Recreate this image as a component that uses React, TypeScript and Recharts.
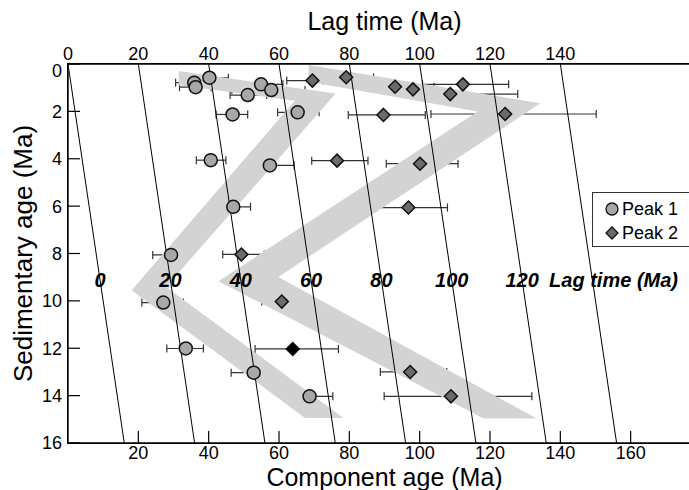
import { ComposedChart, Scatter, XAxis, YAxis, ErrorBar, Cell } from "recharts";

const FONT = '"Liberation Sans", Arial, Helvetica, sans-serif';

// Peak 1 (circles): component age, sedimentary age, error bar ends
const peak1Age = [40.2, 35.9, 36.3, 54.9, 57.8, 51.1, 46.8, 65.3, 40.6, 57.4, 47.0, 29.3, 27.1, 33.5, 52.8, 68.7];
const peak1Sed = [0.58, 0.79, 0.98, 0.86, 1.1, 1.31, 2.13, 2.04, 4.06, 4.28, 6.03, 8.06, 10.07, 12.01, 13.03, 14.03];
const peak1Low = [34.2, 30.6, 31.7, 49.1, 46.6, 46.1, 42.1, 59.6, 36.5, 50.5, 41.8, 24.1, 21.0, 28.1, 46.4, 61.5];
const peak1High = [45.6, 40.5, 40.7, 61.1, 67.4, 56.5, 51.1, 71.4, 44.9, 64.3, 51.9, 34.2, 32.8, 38.5, 59.1, 75.3];

// Peak 2 (diamonds)
const peak2Age = [69.5, 79.1, 93.0, 98.1, 112.3, 108.7, 89.7, 124.3, 76.5, 100.1, 96.8, 49.3, 60.8, 63.9, 97.3, 108.9];
const peak2Sed = [0.7, 0.56, 0.96, 1.07, 0.86, 1.27, 2.15, 2.11, 4.08, 4.21, 6.06, 8.04, 10.03, 12.03, 13.0, 14.03];
const peak2Low = [62.2, 72.0, 83.3, 89.7, 100.8, 95.1, 79.7, 103.2, 69.3, 90.5, 87.6, 44.0, 55.1, 53.2, 88.8, 89.9];
const peak2High = [72.6, 86.9, 104.1, 100.8, 125.3, 127.9, 101.6, 150.2, 85.3, 110.9, 107.9, 55.8, 67.3, 76.9, 107.7, 131.9];
const peak2Black = 13; // the one filled black

// shaded trend bands (polygon corners)
const band1Age = [31.5, 76.1, 27.9, 78.3, 67.4, 18.1, 64.5, 31.5];
const band1Sed = [0.3, 1.25, 9.41, 14.94, 14.94, 9.55, 1.55, 0.9];
const band2Age = [68.4, 134.3, 59.8, 133.3, 118.2, 42.8, 116.5, 68.4];
const band2Sed = [0.04, 1.66, 8.99, 14.97, 14.97, 9.17, 2.0, 0.75];

// lag time isolines and labels
const lagLines = [0, 20, 40, 60, 80, 100, 120, 140];
const lagLabels = [0, 20, 40, 60, 80, 100, 120];
const lagLabelSed = 9.13;

const ageDomain = [0, 180];
const sedDomain = [0, 16];
const bottomTicks = [20, 40, 60, 80, 100, 120, 140, 160];
const topTicks = [0, 20, 40, 60, 80, 100, 120, 140];
const sedTicks = [0, 2, 4, 6, 8, 10, 12, 14, 16];

// layout
const CHART_W = 701;
const CHART_H = 490;
const Y_AXIS_W = 68;
const TOP_AXIS_H = 64;
const BOTTOM_AXIS_H = 47;

const toPoints = (ages: number[], seds: number[]) => ages.map((age, i) => ({ age, sed: seds[i] }));
const withErr = (ages: number[], seds: number[], lo: number[], hi: number[]) =>
  ages.map((age, i) => ({ age, sed: seds[i], err: [age - lo[i], hi[i] - age] }));

const peak1 = withErr(peak1Age, peak1Sed, peak1Low, peak1High);
const peak2 = withErr(peak2Age, peak2Sed, peak2Low, peak2High);
const band1 = toPoints(band1Age, band1Sed);
const band2 = toPoints(band2Age, band2Sed);

const bottomTickMarks = bottomTicks.map((age) => ({ age, sed: sedDomain[1] }));
const leftTickMarks = sedTicks.map((sed) => ({ age: ageDomain[0], sed }));

const BandShape = (props: any) => {
  const pts = props.points || [];
  const d = pts.map((p: any, i: number) => `${i ? "L" : "M"}${p.x},${p.y}`).join("") + "Z";
  return <path d={d} fill="#d3d3d3" stroke="none" />;
};

const IsoLine = (props: any) => {
  const pts = props.points || [];
  const d = pts.map((p: any, i: number) => `${i ? "L" : "M"}${p.x},${p.y}`).join("");
  return <path d={d} fill="none" stroke="#000" strokeWidth={1} />;
};

const Empty = () => <g />;

const UpTick = (p: any) => <path d={`M${p.cx},${p.cy}L${p.cx},${p.cy - 12}`} stroke="#000" strokeWidth={1.2} fill="none" />;
const RightTick = (p: any) => <path d={`M${p.cx},${p.cy}L${p.cx + 12},${p.cy}`} stroke="#000" strokeWidth={1.2} fill="none" />;

const CircleDot = (p: any) => (
  <circle cx={p.cx} cy={p.cy} r={6.5} fill="#a8a8a8" stroke="#111" strokeWidth={1.5} />
);

const DiamondDot = (p: any) => {
  const r = 6.5;
  return (
    <path
      d={`M${p.cx},${p.cy - r}L${p.cx + r},${p.cy}L${p.cx},${p.cy + r}L${p.cx - r},${p.cy}Z`}
      fill={p.fill || "#6b6b6b"}
      stroke="#111"
      strokeWidth={1.5}
    />
  );
};

const LagText = (p: any) => (
  <g>
    <text x={p.cx} y={p.cy} dy="0.36em" textAnchor="middle" fontFamily={FONT} fontSize={20} fontWeight="bold" fontStyle="italic" fill="#000">
      {p.payload.lag}
    </text>
    {p.payload.lag === lagLabels[lagLabels.length - 1] && (
      <text x={p.cx + 27} y={p.cy} dy="0.36em" textAnchor="start" fontFamily={FONT} fontSize={20} fontWeight="bold" fontStyle="italic" fill="#000">
        Lag time (Ma)
      </text>
    )}
  </g>
);

const LeftTickLabel = (p: any) => (
  <text x={p.x} y={p.y} dy={p.payload.value === 0 ? "0.72em" : "0.36em"} textAnchor="end" fontFamily={FONT} fontSize={18} fill="#000">
    {p.payload.value}
  </text>
);

const LegendBox = () => (
  <div
    style={{
      position: "absolute",
      left: 592,
      top: 192,
      border: "1px solid #333",
      background: "#fff",
      width: 100,
      height: 55,
      boxSizing: "border-box",
      padding: "4px 0 0 12px",
      fontFamily: FONT,
      fontSize: 18,
      lineHeight: "24px",
      color: "#000",
    }}
  >
    <div style={{ display: "flex", alignItems: "center" }}>
      <svg width={14} height={14} style={{ marginRight: 3 }}>
        <circle cx={7} cy={7} r={6} fill="#a8a8a8" stroke="#111" strokeWidth={1.3} />
      </svg>
      <span>Peak 1</span>
    </div>
    <div style={{ display: "flex", alignItems: "center" }}>
      <svg width={14} height={14} style={{ marginRight: 3 }}>
        <path d="M7,1L13,7L7,13L1,7Z" fill="#6b6b6b" stroke="#111" strokeWidth={1.3} />
      </svg>
      <span>Peak 2</span>
    </div>
  </div>
);

export default function App() {
  const tickStyle = { fontSize: 18, fill: "#000", fontFamily: FONT };
  const axisLine = { stroke: "#000", strokeWidth: 1.4 };
  return (
    <div style={{ position: "fixed", left: 0, top: 0, width: 689, height: 490, overflow: "hidden", background: "#fff" }}>
      <ComposedChart width={CHART_W} height={CHART_H} margin={{ top: 0, right: 0, bottom: 0, left: 0 }}>
        <XAxis
          xAxisId="bottom"
          dataKey="age"
          type="number"
          domain={ageDomain}
          ticks={bottomTicks}
          height={BOTTOM_AXIS_H}
          tickSize={0}
          tickMargin={3}
          tick={tickStyle}
          tickLine={false}
          stroke="#000"
          axisLine={axisLine}
          label={{ value: "Component age (Ma)", position: "insideBottom", offset: 4, style: { fontSize: 25, fill: "#000", fontFamily: FONT } }}
        />
        <XAxis
          xAxisId="top"
          dataKey="age"
          orientation="top"
          type="number"
          domain={ageDomain}
          ticks={topTicks}
          height={TOP_AXIS_H}
          tickSize={0}
          tickMargin={4}
          tick={tickStyle}
          tickLine={false}
          stroke="#000"
          axisLine={axisLine}
          label={{ value: "Lag time (Ma)", position: "insideTop", offset: 12, style: { fontSize: 25, fill: "#000", fontFamily: FONT } }}
        />
        <YAxis
          dataKey="sed"
          type="number"
          domain={sedDomain}
          reversed
          ticks={sedTicks}
          width={Y_AXIS_W}
          tickSize={0}
          tickMargin={6}
          tick={<LeftTickLabel />}
          tickLine={false}
          stroke="#000"
          axisLine={axisLine}
          label={{ value: "Sedimentary age (Ma)", angle: -90, position: "insideLeft", offset: 23, style: { fontSize: 26, fill: "#000", fontFamily: FONT, textAnchor: "middle" } }}
        />

        <Scatter xAxisId="bottom" data={band1} line={BandShape} shape={Empty} isAnimationActive={false} />
        <Scatter xAxisId="bottom" data={band2} line={BandShape} shape={Empty} isAnimationActive={false} />

        {lagLines.map((lag) => (
          <Scatter
            key={`lag-${lag}`}
            xAxisId="top"
            data={[
              { age: lag, sed: 0 },
              { age: lag + 16, sed: 16 },
            ]}
            line={IsoLine}
            shape={Empty}
            isAnimationActive={false}
          />
        ))}

        <Scatter xAxisId="bottom" data={[...bottomTickMarks]} shape={UpTick} isAnimationActive={false} />
        <Scatter xAxisId="bottom" data={[...leftTickMarks]} shape={RightTick} isAnimationActive={false} />

        <Scatter
          xAxisId="top"
          data={lagLabels.map((lag) => ({ lag, age: lag + lagLabelSed, sed: lagLabelSed }))}
          shape={LagText}
          isAnimationActive={false}
        />

        <Scatter name="Peak 1" xAxisId="bottom" data={peak1} shape={CircleDot} isAnimationActive={false}>
          <ErrorBar dataKey="err" direction="x" width={4} stroke="#333" strokeWidth={1.2} />
        </Scatter>
        <Scatter name="Peak 2" xAxisId="bottom" data={peak2} shape={DiamondDot} isAnimationActive={false}>
          {peak2.map((_, i) => (
            <Cell key={`c-${i}`} fill={i === peak2Black ? "#000" : "#6b6b6b"} />
          ))}
          <ErrorBar dataKey="err" direction="x" width={4} stroke="#333" strokeWidth={1.2} />
        </Scatter>
      </ComposedChart>
      {/* plot frame: left, top and bottom edges of the plot area */}
      <div
        style={{
          position: "absolute",
          left: Y_AXIS_W - 0.7,
          top: TOP_AXIS_H - 0.7,
          width: CHART_W,
          height: CHART_H - TOP_AXIS_H - BOTTOM_AXIS_H,
          borderLeft: "1.4px solid #000",
          borderTop: "1.4px solid #000",
          borderBottom: "1.4px solid #000",
          pointerEvents: "none",
        }}
      />
      <LegendBox />
    </div>
  );
}
